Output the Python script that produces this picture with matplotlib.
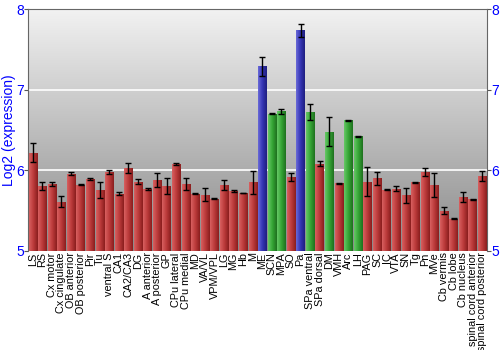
import matplotlib
matplotlib.use("Agg")
import matplotlib.pyplot as plt
import numpy as np
from matplotlib.colors import LinearSegmentedColormap

plt.rcParams['font.family'] = ['Liberation Sans', 'DejaVu Sans']

labels = ["LS", "RS", "Cx motor", "Cx cingulate", "OB anterior", "OB posterior",
          "Pir", "Tu", "ventral S", "CA1", "CA2/CA3", "DG", "A anterior",
          "A posterior", "GP", "CPu lateral", "CPu medial", "MD", "VA/VL",
          "VPM/VPL", "LG", "MG", "Hb", "M", "ME", "SCN", "MPA", "SO", "Pa",
          "SPa ventral", "SPa dorsal", "DM", "VMH", "Arc", "LH", "PAG", "SC",
          "IC", "VTA", "SN", "Tg", "Pn", "MVe", "Cb vermis", "Cb lobe",
          "Cb nucleus", "spinal cord anterior", "spinal cord posterior"]

values = [6.22, 5.81, 5.83, 5.61, 5.96, 5.82, 5.89, 5.76, 5.98, 5.71, 6.03,
          5.86, 5.77, 5.88, 5.81, 6.08, 5.83, 5.71, 5.70, 5.65, 5.82, 5.74,
          5.72, 5.85, 7.29, 6.70, 6.73, 5.92, 7.74, 6.72, 6.08, 6.48, 5.84,
          6.62, 6.42, 5.86, 5.90, 5.76, 5.77, 5.69, 5.85, 5.98, 5.82, 5.50,
          5.40, 5.67, 5.64, 5.93]

errors = [0.12, 0.05, 0.03, 0.07, 0.02, 0.005, 0.01, 0.10, 0.02, 0.02, 0.06,
          0.03, 0.01, 0.09, 0.10, 0.01, 0.07, 0.005, 0.08, 0.005, 0.06, 0.01,
          0.005, 0.14, 0.12, 0.005, 0.03, 0.05, 0.08, 0.10, 0.03, 0.18, 0.005,
          0.005, 0.005, 0.18, 0.08, 0.005, 0.03, 0.09, 0.01, 0.05, 0.15, 0.045,
          0.005, 0.06, 0.01, 0.06]

# r = red, b = blue, g = green
groups = list("rrrrrrrrrrrrrrrrrrrrrrrr" + "bggrbgrgrggrrrrrrrrrrrrr")

shades = {
    "r": ["#d86060", "#bb3a3a", "#8a1e1e"],
    "b": ["#6a6ad8", "#3535b5", "#1e1e80"],
    "g": ["#66c866", "#35a535", "#1e701e"],
}

fig = plt.figure(figsize=(5, 3.5), dpi=100)
ax = fig.add_axes([0.056, 0.283, 0.918, 0.691])

x = np.arange(len(labels))
ymin, ymax = 5, 8

# background gradient
bg = LinearSegmentedColormap.from_list("bg", ["#8a8a8a", "#f2f2f2"])
ax.imshow(np.linspace(0, 1, 256).reshape(-1, 1), cmap=bg, aspect="auto",
          extent=[-0.5, len(labels) - 0.5, ymin, ymax], origin="lower", zorder=0)

for yv in [6, 7]:
    ax.axhline(yv, color="white", lw=1.2, zorder=1)

bars = ax.bar(x, [v - ymin for v in values], bottom=ymin, width=0.88,
              color="none", edgecolor="none", zorder=2)

grad = np.linspace(0, 1, 64).reshape(1, -1)
for b, g in zip(bars, groups):
    cm = LinearSegmentedColormap.from_list("c" + g, shades[g])
    x0 = b.get_x()
    im = ax.imshow(grad, cmap=cm, aspect="auto", zorder=2,
                   extent=[x0, x0 + b.get_width(), ymin, ymin + b.get_height()])
    im.set_clip_path(b)

ax.errorbar(x, values, yerr=errors, fmt="none", ecolor="black", elinewidth=1,
            capsize=2.5, capthick=1, zorder=3)

ax.set_xlim(-0.5, len(labels) - 0.5)
ax.set_ylim(ymin, ymax)
ax.set_xticks(x)
ax.set_xticklabels(labels, rotation=90, fontsize=7.8)
ax.tick_params(axis="x", length=0, pad=1)
ax.set_yticks([5, 6, 7, 8])
ax.tick_params(axis="y", colors="#555555", labelcolor="blue", labelsize=10,
               length=3, right=True, labelright=True, pad=0)
ax.set_ylabel("Log2 (expression)", color="blue", fontsize=10, labelpad=0)

for s in ax.spines.values():
    s.set_color("#666666")
ax.spines["bottom"].set_visible(False)

fig.savefig("out.png", dpi=100)
